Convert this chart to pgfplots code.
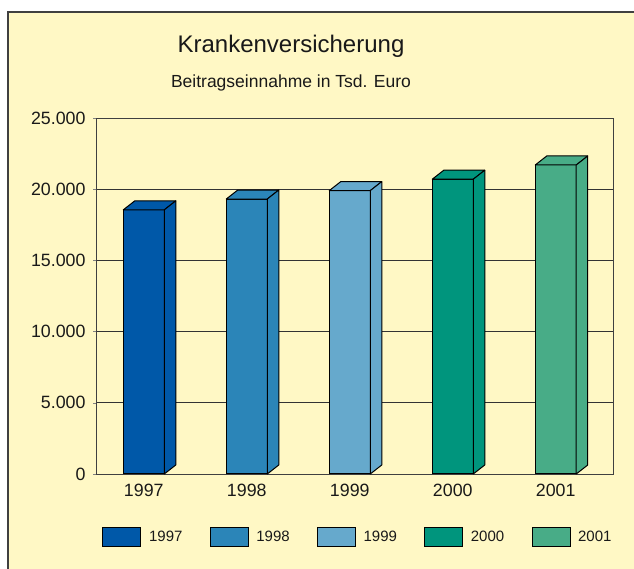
\documentclass[border=0pt]{standalone}
\usepackage{fontspec}
\setmainfont{Liberation Sans}
\usepackage{pgfplots}
\pgfplotsset{compat=1.18}
\definecolor{bg}{HTML}{FFF8C5}
\definecolor{cA}{HTML}{0058A8}
\definecolor{cB}{HTML}{2B85B8}
\definecolor{cC}{HTML}{66A9CC}
\definecolor{cD}{HTML}{00957D}
\definecolor{cE}{HTML}{48AC87}
\pgfdeclareplotmark{none3d}{}
\pgfplotsset{
  bar3d/.style={ybar, bar width=41pt, bar shift=0pt, fill=#1, draw=black, line width=1pt,
    point meta=y, scatter, mark=none3d,
    scatter/@pre marker code/.code={%
      \pgfmathsetlengthmacro\hh{\pgfplotspointmetatransformed/1000*356pt}%
      \filldraw[fill=#1,draw=black,line width=1pt,line join=round] (-20.5pt,0pt) -- ++(11.5pt,9pt) -- ++(41pt,0pt) -- ++(-11.5pt,-9pt) -- cycle;
      \filldraw[fill=#1,draw=black,line width=1pt,line join=round] (20.5pt,0pt) -- ++(11.5pt,9pt) -- ++(0pt,-\hh) -- ++(-11.5pt,-9pt) -- cycle;
      \scope},
    scatter/@post marker code/.code={\endscope}
  }
}
\begin{document}
\begin{tikzpicture}[x=1pt,y=1pt]
\useasboundingbox (0,0) rectangle (634,569);
\fill[bg] (8,0) rectangle (634,557);
\draw[black!75, line width=1.2pt] (8,0) -- (8,557) -- (634,557);
\node[anchor=base, font=\fontsize{24}{28}\selectfont, text=black!90, inner sep=0pt] at (291,516) {Krankenversicherung};
\node[anchor=base, font=\fontsize{17.5}{21}\selectfont, text=black!90, inner sep=0pt] at (291,481) {Beitragseinnahme in Tsd. Euro};
\begin{axis}[
  at={(96pt,95pt)}, anchor=south west,
  width=517pt, height=356pt, scale only axis,
  xmin=-0.464, xmax=4.556, ymin=0, ymax=25000,
  xtick={0,1,2,3,4}, xticklabels={1997,1998,1999,2000,2001},
  ytick={0,5000,10000,15000,20000,25000},
  scaled y ticks=false,
  yticklabel style={/pgf/number format/use comma, /pgf/number format/1000 sep={.}, /pgf/number format/assume math mode=true, xshift=-4pt},
  tick label style={font=\fontsize{17.8}{21}\selectfont, text=black!90},
  ytick pos=left, tick align=outside, major tick length=3pt,
  xtick style={draw=none},
  xticklabel style={yshift=-4pt},
  axis line style={draw=black!75, line width=0.9pt},
  ymajorgrids, major grid style={black!80, line width=0.7pt},
  point meta min=0, point meta max=25000,
  legend columns=5,
  legend style={at={(0.5,0)}, anchor=center, yshift=-63pt, xshift=2.5pt, draw=none, fill=none,
    font=\fontsize{15}{18}\selectfont,
    nodes={inner sep=0pt, text=black!90},
    /tikz/every odd column/.append style={column sep=7.6pt},
    /tikz/every even column/.append style={column sep=27.3pt}},
  legend image code/.code={\draw[#1, line width=1pt] (0pt,-9.5pt) rectangle (38pt,9.5pt);},
]
\addplot[bar3d=cA] coordinates {(0,18550)};
\addplot[bar3d=cB] coordinates {(1,19310)};
\addplot[bar3d=cC] coordinates {(2,19900)};
\addplot[bar3d=cD] coordinates {(3,20700)};
\addplot[bar3d=cE] coordinates {(4,21700)};
\legend{1997,1998,1999,2000,2001}
\end{axis}
\end{tikzpicture}
\end{document}
